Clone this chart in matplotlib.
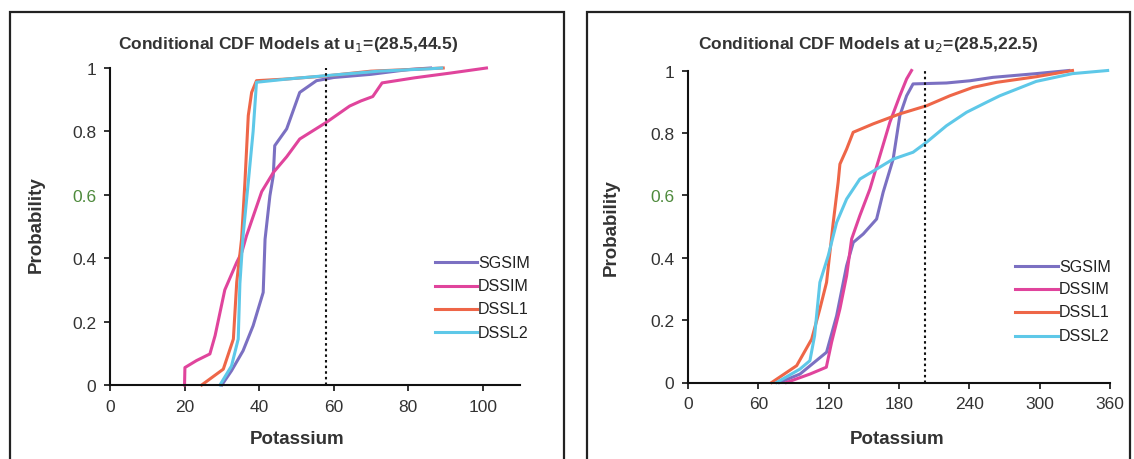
import matplotlib
matplotlib.use("Agg")
import matplotlib.pyplot as plt
from matplotlib.patches import Rectangle

series_names = ["SGSIM", "DSSIM", "DSSL1", "DSSL2"]
colors = ["#7b70c2", "#e0449c", "#ee6648", "#5ec8e8"]

# Panel 1: u1=(28.5,44.5)
p1_sgsim_x = [30, 32.6, 35.7, 38.4, 41.1, 41.6, 42.9, 43.8, 44.2, 47.4, 50.9, 55.4, 60, 70, 80, 86]
p1_sgsim_y = [0, 0.045, 0.108, 0.187, 0.292, 0.46, 0.597, 0.66, 0.755, 0.808, 0.923, 0.96, 0.97, 0.98, 0.995, 1.0]
p1_dssim_x = [20, 20.1, 23.2, 26.8, 28.2, 30.8, 34, 35.4, 36.6, 40.7, 43.8, 47.4, 50.9, 58.1, 64.3, 67.3, 70.5, 73, 81.7, 91.3, 101]
p1_dssim_y = [0, 0.055, 0.077, 0.098, 0.156, 0.30, 0.387, 0.42, 0.47, 0.61, 0.67, 0.72, 0.776, 0.829, 0.88, 0.896, 0.91, 0.953, 0.969, 0.984, 1.0]
p1_dssl1_x = [24.6, 30.4, 33.1, 34, 35.3, 36.2, 37.1, 38, 39.3, 47, 58, 70, 80, 89.4]
p1_dssl1_y = [0, 0.05, 0.145, 0.324, 0.46, 0.64, 0.85, 0.923, 0.96, 0.965, 0.975, 0.99, 0.995, 1.0]
p1_dssl2_x = [29.5, 32.6, 34.4, 34.85, 35.7, 37.1, 38.4, 39.3, 47.4, 58.1, 72.1, 86.5, 89]
p1_dssl2_y = [0, 0.06, 0.145, 0.32, 0.47, 0.64, 0.8, 0.955, 0.965, 0.976, 0.99, 0.998, 1.0]
p1_threshold = 58
p1_xticks = [0, 20, 40, 60, 80, 100]
p1_xmax = 110

# Panel 2: u2=(28.5,22.5)
p2_sgsim_x = [78, 95.5, 118.2, 126.8, 135.3, 141, 149.5, 160.9, 166.5, 175, 180.7, 186.5, 192, 220.5, 240.4, 260, 297, 325]
p2_sgsim_y = [0, 0.027, 0.097, 0.214, 0.374, 0.449, 0.476, 0.524, 0.61, 0.716, 0.855, 0.919, 0.957, 0.96, 0.967, 0.978, 0.99, 1.0]
p2_dssim_x = [84, 104, 118, 122.5, 129.6, 135.3, 139.6, 146.6, 155.2, 163.7, 172.2, 180.7, 186.5, 190.7]
p2_dssim_y = [0, 0.027, 0.049, 0.129, 0.236, 0.342, 0.46, 0.535, 0.62, 0.727, 0.834, 0.919, 0.973, 1.0]
p2_dssl1_x = [71.4, 92.7, 105.5, 112.5, 118.2, 123.9, 128.1, 129.6, 135.3, 140.9, 158, 180.7, 203.5, 223.4, 243.2, 263.2, 297, 328]
p2_dssl1_y = [0, 0.054, 0.139, 0.236, 0.321, 0.513, 0.642, 0.70, 0.748, 0.802, 0.829, 0.861, 0.887, 0.919, 0.946, 0.962, 0.98, 1.0]
p2_dssl2_x = [75.6, 95.5, 104, 108, 112.5, 119.6, 126.8, 135.3, 146.6, 160.9, 175, 192, 203.5, 220.5, 237.6, 254.6, 266, 297, 328, 358]
p2_dssl2_y = [0, 0.043, 0.07, 0.15, 0.321, 0.406, 0.513, 0.588, 0.652, 0.684, 0.716, 0.738, 0.77, 0.823, 0.866, 0.898, 0.919, 0.965, 0.99, 1.0]
p2_threshold = 202
p2_xticks = [0, 60, 120, 180, 240, 300, 360]
p2_xmax = 360

yticks = [0, 0.2, 0.4, 0.6, 0.8, 1]
ytick_labels = ["0", "0.2", "0.4", "0.6", "0.8", "1"]

W, H = 1134, 460
fig = plt.figure(figsize=(W / 100, H / 100), dpi=100)
fig.patch.set_facecolor("white")

def fx(px):
    return px / W

def fy(py):
    return 1 - py / H

# panel frames
fig.patches.append(Rectangle((fx(10), fy(475)), fx(564) - fx(10), fy(13) - fy(475),
                             transform=fig.transFigure, fill=False, edgecolor="#222222", lw=1.6))
fig.patches.append(Rectangle((fx(587), fy(475)), fx(1130) - fx(587), fy(13) - fy(475),
                             transform=fig.transFigure, fill=False, edgecolor="#222222", lw=1.6))

panels = [
    dict(rect=[fx(110), fy(386), fx(520) - fx(110), fy(69) - fy(386)],
         xs=[p1_sgsim_x, p1_dssim_x, p1_dssl1_x, p1_dssl2_x],
         ys=[p1_sgsim_y, p1_dssim_y, p1_dssl1_y, p1_dssl2_y],
         thr=p1_threshold, xticks=p1_xticks, xmax=p1_xmax,
         title="Conditional CDF Models at u$_1$=(28.5,44.5)", title_px=(288, 45),
         ylab_px=(36, 225), xlab_px=(297, 440),
         leg_x=(435, 477), leg_y=[263, 287, 310, 333]),
    dict(rect=[fx(688), fy(383.5), fx(1110) - fx(688), fy(71.5) - fy(383.5)],
         xs=[p2_sgsim_x, p2_dssim_x, p2_dssl1_x, p2_dssl2_x],
         ys=[p2_sgsim_y, p2_dssim_y, p2_dssl1_y, p2_dssl2_y],
         thr=p2_threshold, xticks=p2_xticks, xmax=p2_xmax,
         title="Conditional CDF Models at u$_2$=(28.5,22.5)", title_px=(868, 45),
         ylab_px=(611, 228), xlab_px=(897, 440),
         leg_x=(1015, 1058), leg_y=[267, 290, 313, 337]),
]

for p in panels:
    ax = fig.add_axes(p["rect"])
    ax.set_facecolor("none")
    for xs, ys, c in zip(p["xs"], p["ys"], colors):
        ax.plot(xs, ys, color=c, lw=2.2, solid_joinstyle="round", clip_on=False)
    ax.axvline(p["thr"], color="#111111", lw=1.5, ls=(0, (1.2, 1.5)))
    ax.set_xlim(0, p["xmax"])
    ax.set_ylim(0, 1)
    for s in ["top", "right"]:
        ax.spines[s].set_visible(False)
    for s in ["left", "bottom"]:
        ax.spines[s].set_linewidth(1.5)
        ax.spines[s].set_color("#111111")
    ax.set_xticks(p["xticks"])
    ax.set_xticklabels([str(t) for t in p["xticks"]])
    ax.set_yticks(yticks)
    ax.set_yticklabels(ytick_labels)
    ax.tick_params(direction="out", length=4, width=1.2, colors="#111111",
                   labelsize=12.5, labelcolor="#333333", pad=6)
    for lab in ax.get_xticklabels() + ax.get_yticklabels():
        lab.set_fontfamily("Liberation Sans")
    ax.get_yticklabels()[3].set_color("#4e8a3c")

    fig.text(fx(p["title_px"][0]), fy(p["title_px"][1]), p["title"], ha="center", va="center",
             fontsize=12.5, fontweight="bold", family="Liberation Sans", color="#333333")
    fig.text(fx(p["ylab_px"][0]), fy(p["ylab_px"][1]), "Probability", rotation=90,
             ha="center", va="center", fontsize=13.5, fontweight="bold",
             family="Liberation Sans", color="#333333")
    fig.text(fx(p["xlab_px"][0]), fy(p["xlab_px"][1]), "Potassium",
             ha="center", va="center", fontsize=13.5, fontweight="bold",
             family="Liberation Sans", color="#333333")

    # legend
    for name, c, ly in zip(series_names, colors, p["leg_y"]):
        fig.add_artist(plt.Line2D([fx(p["leg_x"][0]), fx(p["leg_x"][1])], [fy(ly), fy(ly)],
                                  transform=fig.transFigure, color=c, lw=2.2))
        fig.text(fx(p["leg_x"][1] + 1), fy(ly), name, ha="left", va="center",
                 fontsize=11.5, family="Liberation Sans", color="#222222")

fig.savefig("out.png", dpi=100)
